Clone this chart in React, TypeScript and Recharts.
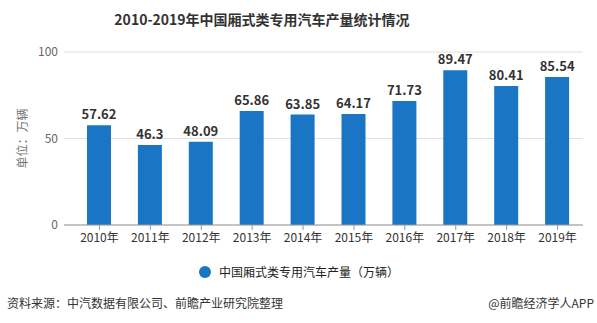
import React from "react";
import { BarChart, Bar, XAxis, YAxis, CartesianGrid, LabelList } from "recharts";

const years = ["2010年", "2011年", "2012年", "2013年", "2014年", "2015年", "2016年", "2017年", "2018年", "2019年"];
const production = [57.62, 46.3, 48.09, 65.86, 63.85, 64.17, 71.73, 89.47, 80.41, 85.54];
const yTicks = [0, 50, 100];
const seriesName = "中国厢式类专用汽车产量（万辆）";
const title = "2010-2019年中国厢式类专用汽车产量统计情况";
const source = "资料来源：中汽数据有限公司、前瞻产业研究院整理";
const brand = "@前瞻经济学人APP";

const data = years.map((y, i) => ({ year: y, value: production[i] }));

const FONT = '"Noto Sans CJK SC", "Noto Sans", sans-serif';
const BLUE = "#1a75c4";

export default function App() {
  return (
    <div style={{ position: "absolute", left: 0, top: 0, width: 597, height: 323, background: "#fff", fontFamily: FONT }}>
      <div style={{ position: "absolute", left: 112, top: 8, width: 300, textAlign: "center", fontSize: 14, fontWeight: "bold", color: "#333", lineHeight: "22px", whiteSpace: "nowrap" }}>
        {title}
      </div>
      <BarChart width={597} height={323} data={data} margin={{ top: 52, right: 14, bottom: 68, left: 0 }}>
        <CartesianGrid vertical={false} stroke="#e0e0e0" />
        <XAxis
          dataKey="year"
          height={30}
          padding={{ left: 10, right: 0 }}
          axisLine={{ stroke: "#999" }}
          tickLine={{ stroke: "#999" }}
          tickSize={5}
          tickMargin={3}
          tick={{ fontSize: 12, fill: "#333", fontFamily: FONT }}
          interval={0}
        />
        <YAxis
          width={64}
          domain={[0, 100]}
          ticks={yTicks}
          axisLine={false}
          tickLine={false}
          tickMargin={0}
          tick={{ fontSize: 12, fill: "#666", fontFamily: FONT }}
          label={{ value: "单位：万辆", angle: -90, position: "insideLeft", dx: 18, fill: "#777", fontSize: 12, fontFamily: FONT, style: { textAnchor: "middle" } }}
        />
        <Bar dataKey="value" name={seriesName} fill={BLUE} barSize={24} isAnimationActive={false}>
          <LabelList dataKey="value" position="top" offset={6} style={{ fontSize: 13, fontWeight: "bold", fill: "#333", fontFamily: FONT }} />
        </Bar>
      </BarChart>
      <div style={{ position: "absolute", left: 199, top: 264, display: "flex", alignItems: "center", whiteSpace: "nowrap" }}>
        <span style={{ display: "inline-block", width: 12, height: 12, borderRadius: 6, background: BLUE, marginRight: 8 }} />
        <span style={{ fontSize: 12, color: "#222", lineHeight: "16px" }}>{seriesName}</span>
      </div>
      <div style={{ position: "absolute", left: 7, top: 295, fontSize: 12, color: "#333", lineHeight: "16px", whiteSpace: "nowrap" }}>{source}</div>
      <div style={{ position: "absolute", right: 3, top: 295, fontSize: 12, color: "#333", lineHeight: "16px", whiteSpace: "nowrap" }}>{brand}</div>
    </div>
  );
}
